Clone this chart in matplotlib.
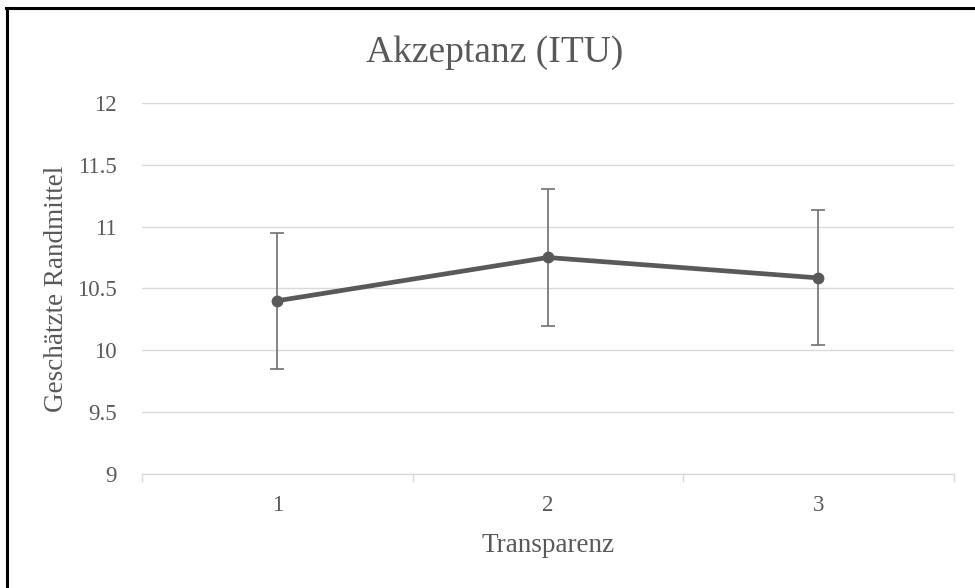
import matplotlib
matplotlib.use("Agg")
import matplotlib.pyplot as plt
from matplotlib.lines import Line2D

# data
categories = ["1", "2", "3"]
means = [10.40, 10.75, 10.585]
errors = [0.55, 0.55, 0.545]
y_ticks = [9, 9.5, 10, 10.5, 11, 11.5, 12]
y_labels = ["9", "9.5", "10", "10.5", "11", "11.5", "12"]

plt.rcParams['font.family'] = ['Liberation Serif', 'DejaVu Serif']
text_col = "#595959"
grid_col = "#d9d9d9"

fig = plt.figure(figsize=(9.75, 5.88), dpi=100)
ax = fig.add_axes([0.1456, 0.194, 0.8325, 0.631])

x = list(range(len(categories)))
ax.errorbar(x, means, yerr=errors, fmt="none", ecolor="#707070",
            elinewidth=1.2, capsize=5, capthick=1.2, zorder=3)
ax.plot(x, means, color="#595959", linewidth=3.4, marker="o",
        markersize=7.5, zorder=4)

ax.set_xlim(-0.5, len(categories) - 0.5)
ax.set_ylim(9, 12)
ax.set_yticks(y_ticks)
ax.set_yticklabels(y_labels)
ax.grid(axis="y", color=grid_col, linewidth=1)
ax.set_axisbelow(True)

# category boundaries as major ticks, labels at centres
ax.set_xticks([i - 0.5 for i in range(len(categories) + 1)])
ax.set_xticklabels([])
ax.set_xticks(x, minor=True)
ax.set_xticklabels(categories, minor=True)
ax.tick_params(axis="x", which="major", length=6, color=grid_col, width=1)
ax.tick_params(axis="x", which="minor", length=0, pad=15, labelsize=16.5,
               labelcolor=text_col)
ax.tick_params(axis="y", length=0, pad=18, labelsize=16.5, labelcolor=text_col)

for side in ["top", "right", "left"]:
    ax.spines[side].set_visible(False)
ax.spines["bottom"].set_color(grid_col)
ax.spines["bottom"].set_linewidth(1)

# title and axis titles placed like the Excel chart
fig.text(0.507, 0.91, "Akzeptanz (ITU)", fontsize=27, color=text_col,
         ha="center", va="center")
fig.text(0.562, 0.073, "Transparenz", fontsize=19.5, color=text_col,
         ha="center", va="center")
fig.text(0.058, 0.508, "Geschätzte Randmittel", fontsize=19.5, color=text_col,
         ha="center", va="center", rotation=90)

# frame visible on left and top of the screenshot
fig.add_artist(Line2D([0.007, 0.007], [0, 0.986], color="black", linewidth=2.2,
                      transform=fig.transFigure))
fig.add_artist(Line2D([0.006, 1.0], [0.986, 0.986], color="black", linewidth=2.2,
                      transform=fig.transFigure))

fig.savefig("out.png", dpi=100)
